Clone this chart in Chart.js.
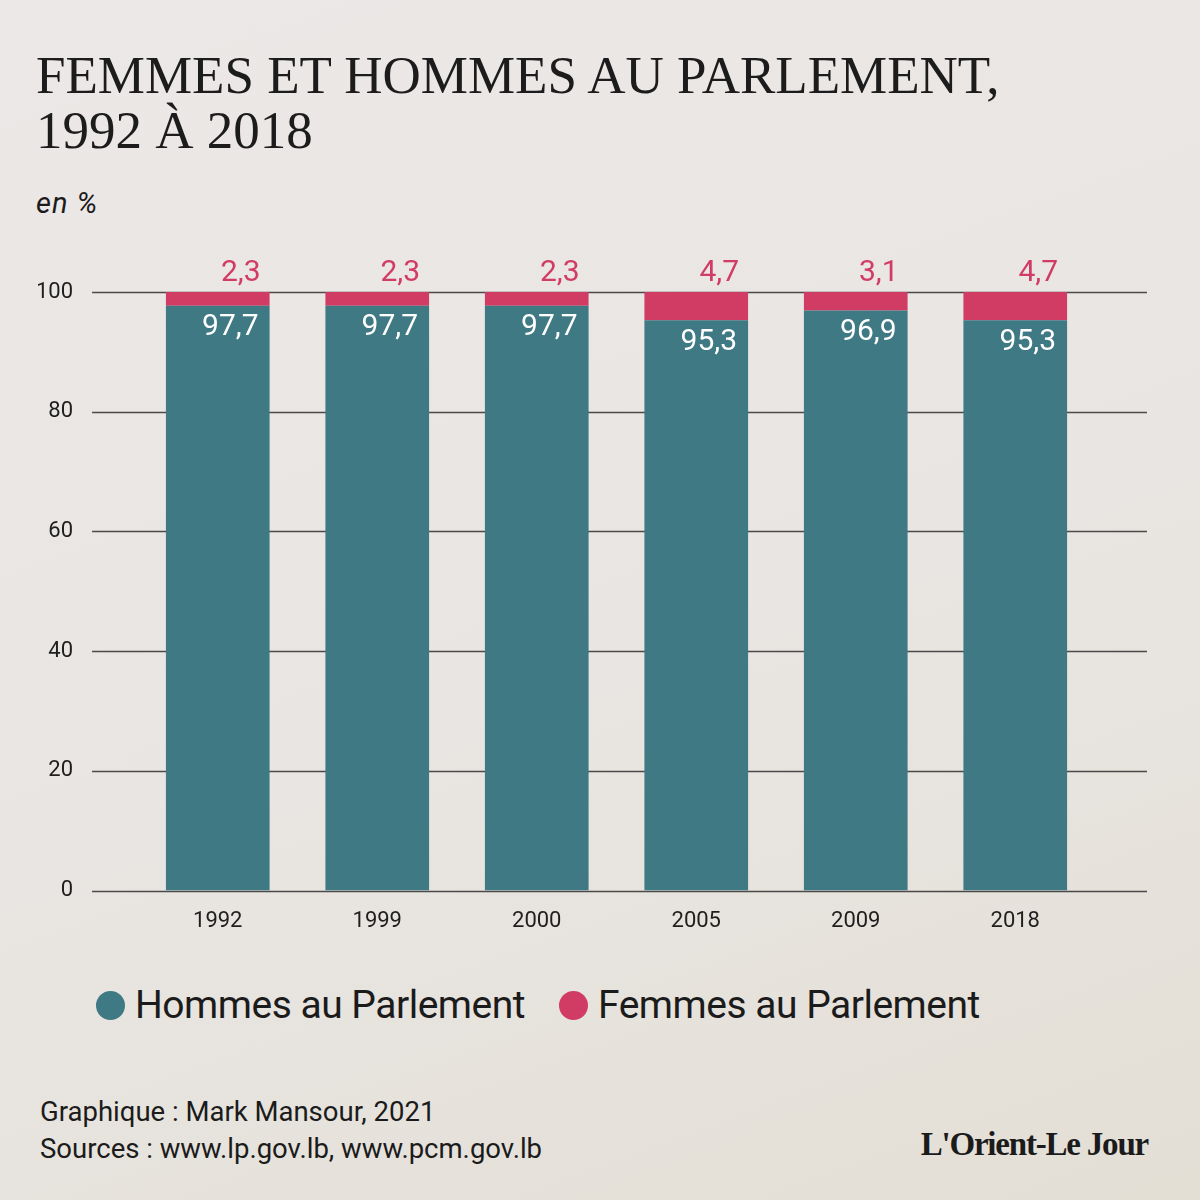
<!DOCTYPE html>
<html lang="fr">
<head>
<meta charset="utf-8">
<script src="https://cdn.jsdelivr.net/npm/chart.js@4.4.1/dist/chart.umd.min.js"></script>
<style>
    html, body { margin: 0; padding: 0; }
    body {
        width: 1200px;
        height: 1200px;
        position: relative;
        overflow: hidden;
        background: linear-gradient(160deg, #ece8e7 0%, #e9e5e2 55%, #e3dfd5 100%);
        font-family: Roboto, "Open Sans", sans-serif;
        color: #1b1b1b;
    }
    .title {
        position: absolute;
        left: 36px;
        top: 48px;
        font-family: "Liberation Serif", "DejaVu Serif", serif;
        font-size: 53px;
        line-height: 55px;
        color: #1c1c1c;
    }
    .unit {
        position: absolute;
        left: 36px;
        top: 186px;
        font-style: italic;
        font-size: 29px;
        letter-spacing: 1px;
    }
    #chart-box {
        position: absolute;
        left: 0;
        top: 240px;
        width: 1200px;
        height: 720px;
    }
    .legend {
        position: absolute;
        top: 982px;
        left: 96px;
        display: flex;
        align-items: center;
        font-size: 39px;
        letter-spacing: -0.5px;
    }
    .legend span.dot {
        display: inline-block;
        width: 29px;
        height: 29px;
        border-radius: 50%;
        margin-right: 10px;
    }
    .legend .item { display: flex; align-items: center; margin-right: 34px; }
    .footer {
        position: absolute;
        left: 40px;
        top: 1093px;
        font-size: 27.5px;
        line-height: 37px;
    }
    .logo {
        position: absolute;
        right: 52px;
        top: 1126px;
        font-family: "Liberation Serif", serif;
        font-weight: bold;
        font-size: 33px;
        letter-spacing: -1.2px;
    }
</style>
</head>
<body>
<div class="title">FEMMES ET HOMMES AU PARLEMENT,<br>1992 À 2018</div>
<div class="unit">en %</div>
<div id="chart-box"><canvas id="parlementChart"></canvas></div>
<div class="legend" id="legend"></div>
<div class="footer">Graphique : Mark Mansour, 2021<br>Sources : www.lp.gov.lb, www.pcm.gov.lb</div>
<div class="logo">L'Orient-Le Jour</div>

<script>
// Data
const years = ["1992", "1999", "2000", "2005", "2009", "2018"];
const hommes = [97.7, 97.7, 97.7, 95.3, 96.9, 95.3];
const femmes = [2.3, 2.3, 2.3, 4.7, 3.1, 4.7];
const yTicks = [0, 20, 40, 60, 80, 100];

const TEAL = "#3e7984";
const PINK = "#d03c63";

function formatFr(v) {
    return v.toFixed(1).replace(".", ",");
}

// Gridlines drawn across the full width, behind the bars
const wideGrid = {
    id: "wideGrid",
    beforeDatasetsDraw(chart) {
        const { ctx, scales: { y } } = chart;
        ctx.save();
        ctx.strokeStyle = "#4a4a4a";
        ctx.lineWidth = 1.5;
        y.ticks.forEach(t => {
            const py = Math.round(y.getPixelForValue(t.value)) + 0.5;
            ctx.beginPath();
            ctx.moveTo(92, py);
            ctx.lineTo(1147, py);
            ctx.stroke();
        });
        ctx.restore();
    }
};

// Value labels
const valueLabels = {
    id: "valueLabels",
    afterDatasetsDraw(chart) {
        const { ctx } = chart;
        ctx.save();
        ctx.font = "30px Roboto, 'Open Sans', sans-serif";
        ctx.textAlign = "right";
        ctx.textBaseline = "middle";
        chart.data.datasets.forEach((ds, i) => {
            const meta = chart.getDatasetMeta(i);
            meta.data.forEach((bar, j) => {
                const right = bar.x + bar.width / 2 - 11;
                if (i === 0) {
                    ctx.fillStyle = "#ffffff";
                    ctx.fillText(formatFr(ds.data[j]), right, bar.y + 22);
                } else {
                    ctx.fillStyle = PINK;
                    ctx.fillText(formatFr(ds.data[j]), right + 2, bar.y - 19);
                }
            });
        });
        ctx.restore();
    }
};

const ctx = document.getElementById("parlementChart").getContext("2d");
const chart = new Chart(ctx, {
    type: "bar",
    data: {
        labels: years,
        datasets: [
            { label: "Hommes au Parlement", data: hommes, backgroundColor: TEAL },
            { label: "Femmes au Parlement", data: femmes, backgroundColor: PINK }
        ]
    },
    options: {
        responsive: true,
        maintainAspectRatio: false,
        animation: false,
        categoryPercentage: 0.65,
        barPercentage: 1,
        layout: { padding: { top: 52, left: 38, right: 105, bottom: 7 } },
        plugins: {
            legend: { display: false },
            tooltip: { enabled: false }
        },
        scales: {
            x: {
                stacked: true,
                grid: { display: false, drawTicks: false },
                border: { display: false },
                ticks: { color: "#1f1f1f", font: { size: 22, family: "Roboto" }, padding: 18 }
            },
            y: {
                stacked: true,
                min: 0,
                max: 100,
                afterBuildTicks: axis => { axis.ticks = yTicks.map(v => ({ value: v })); },
                afterFit: axis => {
                    axis.width = 100;
                    axis.paddingTop = 0;
                    axis.paddingBottom = 0;
                },
                grid: { display: false, drawTicks: false },
                border: { display: false },
                ticks: { color: "#1f1f1f", font: { size: 22, family: "Roboto" }, padding: 65 }
            }
        }
    },
    plugins: [wideGrid, valueLabels]
});

// Legend
const legend = document.getElementById("legend");
chart.data.datasets.forEach(ds => {
    const item = document.createElement("div");
    item.className = "item";
    item.innerHTML = `<span class="dot" style="background:${ds.backgroundColor}"></span>${ds.label}`;
    legend.appendChild(item);
});
</script>
</body>
</html>
